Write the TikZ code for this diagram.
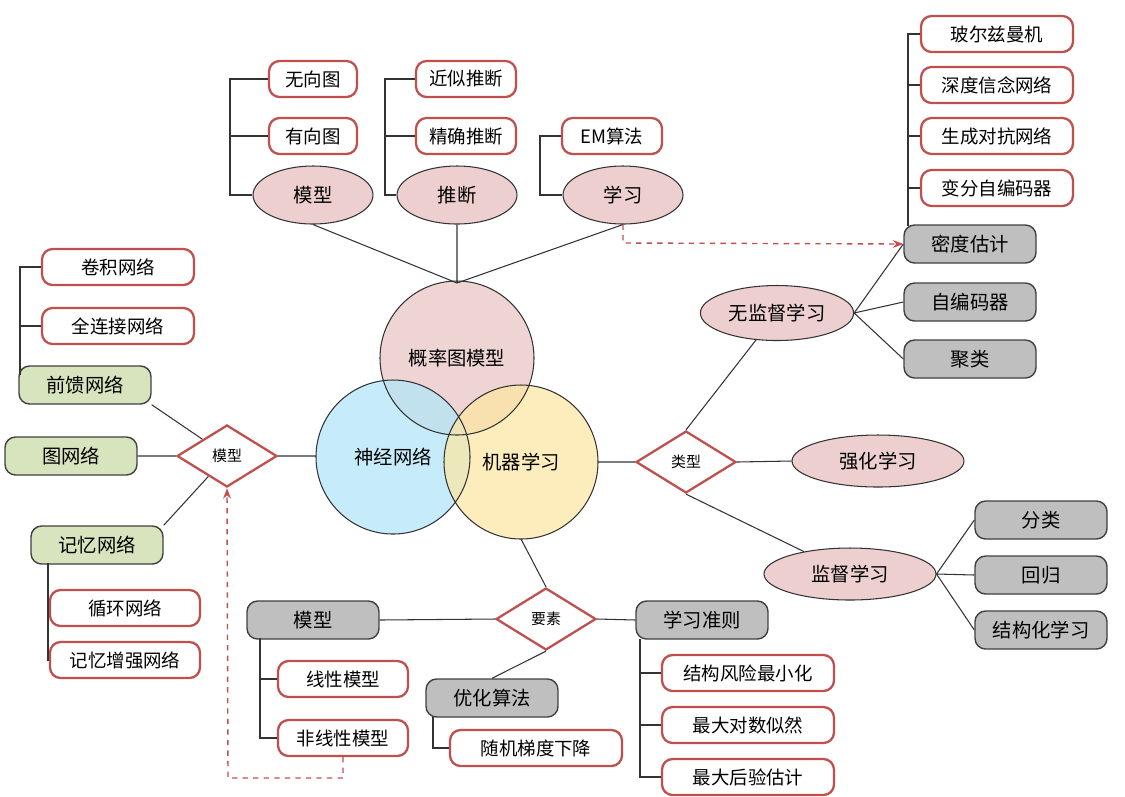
\documentclass[tikz,border=0pt]{standalone}
\usepackage{fontspec}
\setmainfont{Noto Sans CJK SC}
\usetikzlibrary{shapes.geometric,arrows.meta}
\definecolor{rd}{HTML}{C0504D}
\definecolor{pk}{HTML}{EDCFCF}
\definecolor{gr}{HTML}{BFBFBF}
\definecolor{gn}{HTML}{D7E4BD}
\tikzset{
 wbox/.style={draw=rd,line width=1.3pt,rounded corners=6pt,fill=white,minimum height=0.72cm,font=\fontsize{10.5}{12}\selectfont},
 gbox/.style={draw=black!75,line width=0.8pt,rounded corners=6pt,fill=gr,minimum width=2.64cm,minimum height=0.76cm,font=\fontsize{11}{13}\selectfont},
 nbox/.style={gbox,fill=gn},
 ell/.style={ellipse,draw=black!80,line width=0.6pt,fill=pk,minimum width=2.4cm,minimum height=1.16cm,font=\fontsize{11}{13}\selectfont},
 dia/.style={diamond,draw=rd,line width=1.3pt,fill=white,minimum width=2cm,minimum height=1.24cm,aspect=1.6,inner sep=0pt,font=\fontsize{8.5}{10}\selectfont},
 ln/.style={draw=black!80,line width=0.6pt},
 dsh/.style={draw=rd,dashed,line width=0.8pt,-{Stealth[length=6pt]}},
}
\begin{document}
\begin{tikzpicture}[x={(0.02cm,0)},y={(0,-0.02cm)}]
\useasboundingbox (0,0) rectangle (1125,796);
% circles
\fill[pk,opacity=0.9] (457,358) circle (77);
\fill[cyan!30!white,opacity=0.75] (393,457) circle (77);
\fill[yellow!50!orange!35!white,opacity=0.7] (521,462) circle (77);
\draw[ln] (457,358) circle (77) (393,457) circle (77) (521,462) circle (77);
\node[font=\fontsize{11}{13}\selectfont] (pgm) at (457,358) {概率图模型};
\node[font=\fontsize{11}{13}\selectfont] (nn) at (393,457) {神经网络};
\node[font=\fontsize{11}{13}\selectfont] (ml) at (521,462) {机器学习};
\coordinate (pgmT) at (457,283);
\coordinate (nnL) at (316,456);
\coordinate (mlR) at (598,462);
\coordinate (mlB) at (521,539);
% top ellipses
\node[ell] (m1) at (313,195) {模型};
\node[ell] (tu) at (457,195) {推断};
\node[ell] (xx) at (623,195) {学习};
\node[wbox,minimum width=1.76cm] (a1) at (313,79) {无向图};
\node[wbox,minimum width=1.76cm] (a2) at (313,136) {有向图};
\node[wbox,minimum width=2cm] (b1) at (466,79) {近似推断};
\node[wbox,minimum width=2cm] (b2) at (466,136) {精确推断};
\node[wbox,minimum width=2cm] (c1) at (612,136) {EM算法};
\draw[ln] (m1.south) -- (pgmT) (tu) -- (pgmT) (xx.south) -- (pgmT);
\draw[ln] (a1.west) -| (230,195) -- (m1.west) (a2.west) -- (230,136);
\draw[ln] (b1.west) -| (385,195) -- (tu.west) (b2.west) -- (385,136);
\draw[ln] (c1.west) -| (540,195) -- (xx.west);
% top right
\node[wbox,minimum width=3.04cm] (d1) at (997,34) {玻尔兹曼机};
\node[wbox,minimum width=3.04cm] (d2) at (997,85) {深度信念网络};
\node[wbox,minimum width=3.04cm] (d3) at (997,136) {生成对抗网络};
\node[wbox,minimum width=3.04cm] (d4) at (997,188) {变分自编码器};
\node[gbox] (e1) at (970,244) {密度估计};
\node[gbox] (e2) at (970,302) {自编码器};
\node[gbox] (e3) at (970,359) {聚类};
\draw[ln] (d1.west) -| (908,226) (d2.west) -- (908,85) (d3.west) -- (908,136) (d4.west) -- (908,188);
\node[ell,minimum width=2.9cm,minimum height=1.1cm] (un) at (777,313) {无监督学习};
\node[ell,minimum width=3.44cm,minimum height=1.04cm] (rl) at (878,461) {强化学习};
\node[ell,minimum width=3.44cm,minimum height=1.04cm] (sl) at (850,574) {监督学习};
\node[dia] (ty) at (686,462) {类型};
\draw[ln] (un.east) -- (e1.west) (un.east) -- (e2.west) (un.east) -- (e3.west);
\draw[ln] (un) -- (ty.north) (mlR) -- (ty.west) (ty.east) -- (rl.west) (ty.south) -- (sl);
\node[gbox] (f1) at (1041,520) {分类};
\node[gbox] (f2) at (1041,575) {回归};
\node[gbox] (f3) at (1041,630) {结构化学习};
\draw[ln] (sl.east) -- (f1.west) (sl.east) -- (f2.west) (sl.east) -- (f3.west);
% bottom
\node[dia] (ys) at (546,619) {要素};
\node[gbox] (m2) at (313,620) {模型};
\node[gbox] (zz) at (702,620) {学习准则};
\node[gbox] (yh) at (492,698) {优化算法};
\draw[ln] (ys.north) -- (mlB) (ys.west) -- (m2.east) (ys.east) -- (zz.west) (ys.south) -- (yh.north);
\node[wbox,minimum width=2.6cm] (g1) at (343,679) {线性模型};
\node[wbox,minimum width=2.6cm] (g2) at (343,738) {非线性模型};
\draw[ln] (260,638) |- (g2.west) (g1.west) -- (260,679);
\node[wbox,minimum width=3.44cm] (h1) at (536,748) {随机梯度下降};
\draw[ln] (433,717) |- (h1.west);
\node[wbox,minimum width=3.44cm] (i1) at (748,673) {结构风险最小化};
\node[wbox,minimum width=3.44cm] (i2) at (748,725) {最大对数似然};
\node[wbox,minimum width=3.44cm] (i3) at (748,777) {最大后验估计};
\draw[ln] (640,639) |- (i3.west) (i1.west) -- (640,673) (i2.west) -- (640,725);
% left
\node[dia] (mx) at (227,456) {模型};
\node[nbox] (n1) at (85,385) {前馈网络};
\node[nbox] (n2) at (71,456) {图网络};
\node[nbox] (n3) at (97,545) {记忆网络};
\node[wbox,minimum width=3.04cm] (k1) at (118,267) {卷积网络};
\node[wbox,minimum width=3.04cm] (k2) at (118,326) {全连接网络};
\node[wbox,minimum width=3cm] (l1) at (125,608) {循环网络};
\node[wbox,minimum width=3cm] (l2) at (125,660) {记忆增强网络};
\draw[ln] (nnL) -- (mx.east) (mx.west) -- (n2.east) (mx) -- (n1.south east) (mx) -- (n3.north east);
\draw[ln] (k1.west) -| (20,375) (k2.west) -- (20,326);
\draw[ln] (48,563) |- (l2.west) (l1.west) -- (48,608);
% dashed
\draw[dsh] (xx.south) -- (623,243) -- (e1.west);
\draw[dsh] (g2.south) -- (343,778) -- (228,778) -- (mx.south);
\end{tikzpicture}
\end{document}
